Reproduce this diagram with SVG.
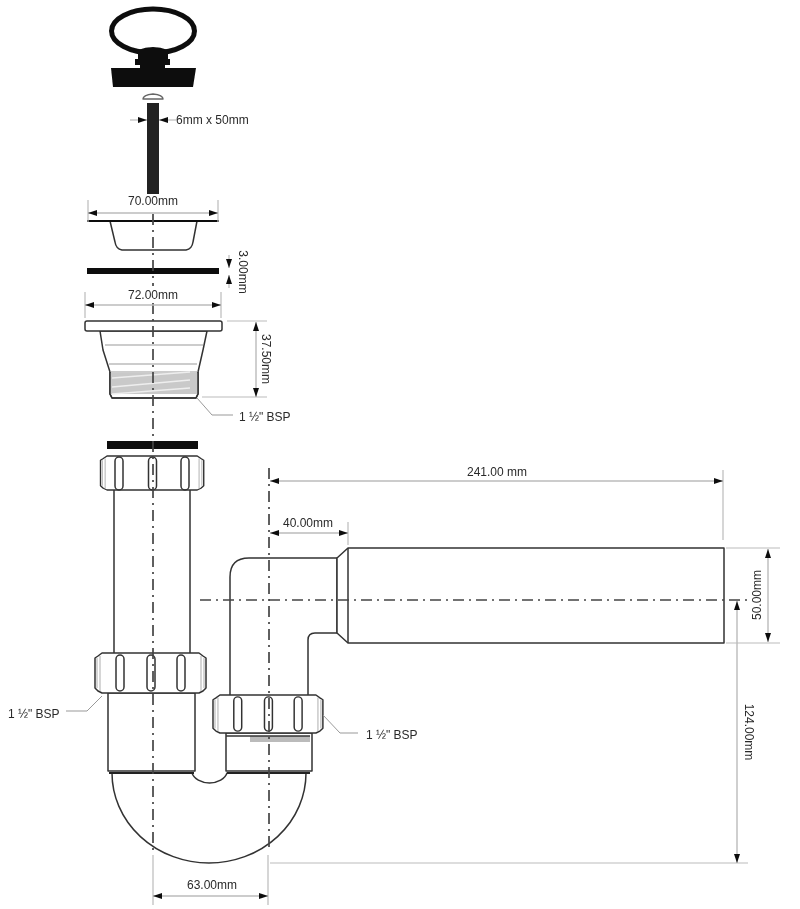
<svg xmlns="http://www.w3.org/2000/svg" width="800" height="909" viewBox="0 0 800 909">
<style>
text{font-family:"Liberation Sans",Arial,sans-serif;font-size:12px;fill:#2a2a2a}
.o{fill:none;stroke:#333;stroke-width:1.5;stroke-linejoin:round}
.w{fill:#fff;stroke:#333;stroke-width:1.5;stroke-linejoin:round}
.t{fill:none;stroke:#999;stroke-width:1}
.g{fill:none;stroke:#bbb;stroke-width:1.2}
.d{fill:none;stroke:#bbb;stroke-width:1.4;marker-start:url(#ah);marker-end:url(#ah)}
.a{fill:none;stroke:#bbb;stroke-width:1.2;marker-end:url(#ah)}
.c{fill:none;stroke:#444;stroke-width:1.7;stroke-dasharray:11 5 2 5}
.l{fill:none;stroke:#999;stroke-width:1}
.b{fill:#0c0c0c}
</style>
<defs>
<marker id="ah" markerUnits="userSpaceOnUse" markerWidth="10" markerHeight="6" refX="9" refY="3" orient="auto-start-reverse"><path d="M0,0L9,3L0,6Z" fill="#111"/></marker>
<g id="nut">
<path class="w" d="M3,3L7,0H104L108,3L111,5V35L108,38L104,40H7L3,38L0,35V5Z"/>
<path class="g" d="M2,5V35M5,3V38M106,3V38M109,5V35"/>
</g>
<g id="ribs">
<rect class="o" x="21" y="2" width="8" height="36" rx="4"/>
<rect class="o" x="52" y="2" width="8" height="36" rx="4"/>
<rect class="o" x="82" y="2" width="8" height="36" rx="4"/>
</g>
<filter id="soft" filterUnits="userSpaceOnUse" x="0" y="0" width="800" height="909"><feGaussianBlur stdDeviation="0.35"/></filter>
</defs>
<rect width="800" height="909" fill="#fff"/>
<g filter="url(#soft)">
<g id="plug">
<ellipse cx="153" cy="31" rx="41.500" ry="22" fill="none" stroke="#0c0c0c" stroke-width="5"/>
<path class="b" d="M138,50Q153,44 168,50V59H170V65H165V68H196L193,87H113L111,68H140V65H135V59H138Z"/>
</g>
<g id="screw">
<path class="o" d="M143,99Q143,95 153,94Q163,95 163,99Z" style="stroke:#666"/>
<rect x="147" y="103" width="12" height="91" fill="#222"/>
</g>
<g id="flange-cup">
<path class="o" d="M110,221L115,242Q116,249 122,250H186Q192,249 193,242L197,221"/>
<path d="M87,221H219" fill="none" stroke="#111" stroke-width="2.2"/>
</g>
<g id="gasket-top"><rect class="b" x="87" y="268" width="132" height="6"/></g>
<g id="waste-body">
<path class="w" d="M100,331L103,350L110,372V394L112,398H196L198,394V372L203,350L207,331Z"/>
<rect x="110" y="373" width="88" height="21" fill="#c9c9c9"/>
<path class="t" d="M105,345H203M109,364H197M110,372H198"/>
<path d="M112,378L190,372M112,387L190,380M112,394L190,388" fill="none" stroke="#eee" stroke-width="1.5"/>
<rect class="w" x="85" y="321" width="137" height="10" rx="2"/>
<path class="o" d="M110,372V394L112,398H196L198,394V372"/>
</g>
<g id="gasket-lower"><rect class="b" x="107" y="441" width="91" height="8"/></g>
<g id="trap">
<path class="w" d="M112,773A97,90 0 0 0 306,773H227A18,13 0 0 1 192,773Z"/>
<path class="w" d="M108,693H195V771H108Z"/>
<path class="w" d="M226,733H312V771H226Z"/>
<path d="M109,773H194M227,773H310" fill="none" stroke="#222" stroke-width="2"/>
<rect x="250" y="736" width="60" height="6" fill="#bbb"/>
<path class="o" d="M226,736H310"/>
</g>
<g id="tailpiece">
<path class="w" d="M114,490V654H190V490"/>
<use href="#nut" transform="translate(100.500,456) scale(0.93,0.85)"/>
<rect class="o" x="115" y="457" width="8" height="33" rx="4"/>
<rect class="o" x="148.500" y="457" width="8" height="33" rx="4"/>
<rect class="o" x="181" y="457" width="8" height="33" rx="4"/>
<use href="#nut" x="95" y="653"/>
<use href="#ribs" x="95" y="653"/>
</g>
<g id="elbow">
<path class="w" d="M230,695V577Q230,558 249,558H337V633H315Q308,633 308,640V695"/>
<path class="w" d="M337,558L348,548H724V643H348L337,633Z"/>
<path class="o" d="M348,548V643"/>
<use href="#nut" transform="translate(213,695) scale(0.99,0.95)"/>
<use href="#ribs" transform="translate(213,695) scale(0.99,0.95)"/>
</g>
</g>
<g id="connectors" filter="url(#soft)">
<path class="c" d="M153,214V286M153,303V850"/>
<path class="c" d="M269,468V850"/>
<path class="c" d="M200,600H752"/>
<path class="g" d="M88,200V222M218,200V222M85,292V318M221,292V318M227,321H267M202,397H267M723,470V540M348,522V545M726,548H780M726,643H780M270,863H748M153,855V905M268,855V905"/>
<path class="d" d="M88,213H218"/>
<path class="d" d="M85,305H221"/>
<path class="d" d="M256,322V397"/>
<path class="d" d="M270,481H723"/>
<path class="d" d="M270,533H348"/>
<path class="d" d="M768,549V642"/>
<path class="d" d="M737,601V863"/>
<path class="d" d="M153,896H268"/>
<path class="a" d="M229,255V268"/>
<path class="a" d="M229,288V275"/>
<path class="a" d="M130,120H147"/>
<path class="a" d="M176,120H159"/>
<path class="l" d="M197,398L212,415H233M66,711H87L102,696M323,715L340,733H358"/>
</g>
<g id="labels">
<text x="176" y="124">6mm x 50mm</text>
<text x="153" y="205" text-anchor="middle">70.00mm</text>
<text transform="translate(239,272) rotate(90)" text-anchor="middle">3.00mm</text>
<text x="153" y="299" text-anchor="middle">72.00mm</text>
<text transform="translate(262,359) rotate(90)" text-anchor="middle">37.50mm</text>
<text x="239" y="421">1 ½" BSP</text>
<text x="497" y="476" text-anchor="middle">241.00 mm</text>
<text x="308" y="527" text-anchor="middle">40.00mm</text>
<text transform="translate(761,595) rotate(-90)" text-anchor="middle">50.00mm</text>
<text transform="translate(745,732) rotate(90)" text-anchor="middle">124.00mm</text>
<text x="8" y="718">1 ½" BSP</text>
<text x="366" y="739">1 ½" BSP</text>
<text x="212" y="889" text-anchor="middle">63.00mm</text>
</g>
</svg>
